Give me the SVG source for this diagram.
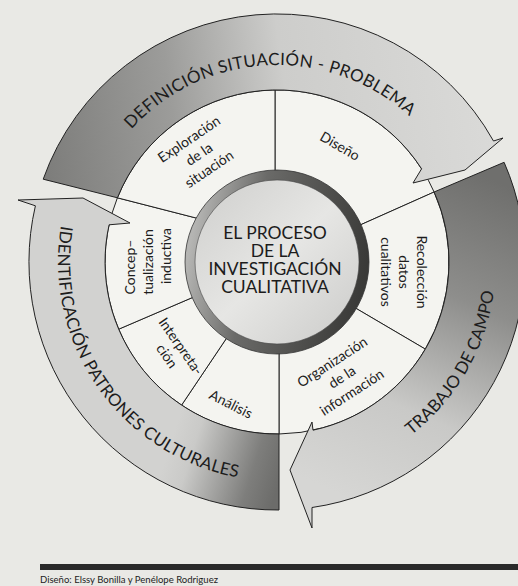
<svg xmlns="http://www.w3.org/2000/svg" width="518" height="586" viewBox="0 0 518 586">
<style>
.band{stroke:#222;stroke-width:1;stroke-linejoin:miter;}
.seg{fill:#f4f4f0;stroke:#222;stroke-width:1;}
.lbl{font-family:Lato,"Liberation Sans",sans-serif;font-size:14px;fill:#1c1c1c;text-anchor:middle;}
.blbl{font-family:Lato,"Liberation Sans",sans-serif;font-size:17px;fill:#1c1c1c;text-anchor:middle;}
.ctr{font-family:Lato,"Liberation Sans",sans-serif;font-size:17.5px;fill:#1c1c1c;text-anchor:middle;}
.cap{font-family:Lato,"Liberation Sans",sans-serif;font-size:9.5px;fill:#1c1c1c;}
</style>
<defs>
<linearGradient id="g1" gradientUnits="userSpaceOnUse" x1="45" y1="200" x2="500" y2="140">
<stop offset="0" stop-color="#7c7c7a"/><stop offset="0.3" stop-color="#9c9c9a"/><stop offset="0.55" stop-color="#cdcdcb"/><stop offset="1" stop-color="#dadad8"/>
</linearGradient>
<linearGradient id="g2" gradientUnits="userSpaceOnUse" x1="470" y1="170" x2="330" y2="490">
<stop offset="0" stop-color="#6f6f6d"/><stop offset="0.35" stop-color="#8e8e8c"/><stop offset="0.7" stop-color="#c9c9c7"/><stop offset="1" stop-color="#d6d6d4"/>
</linearGradient>
<linearGradient id="g3" gradientUnits="userSpaceOnUse" x1="280" y1="480" x2="170" y2="445">
<stop offset="0" stop-color="#6c6c6a"/><stop offset="0.25" stop-color="#7e7e7c"/><stop offset="0.8" stop-color="#cacac8"/><stop offset="1" stop-color="#d2d2d0"/>
</linearGradient>
<linearGradient id="gring" x1="0" y1="0.4" x2="1" y2="0.6">
<stop offset="0" stop-color="#b5b5b3"/><stop offset="0.35" stop-color="#6a6a68"/><stop offset="1" stop-color="#3a3a38"/>
</linearGradient>
<linearGradient id="gdisc" x1="0" y1="0" x2="1" y2="1">
<stop offset="0" stop-color="#cdcdcb"/><stop offset="0.5" stop-color="#e6e6e4"/><stop offset="1" stop-color="#c9c9c7"/>
</linearGradient>
<path id="tp1" d="M88.9,203.4 A197,197 0 0 1 458.7,186"/>
<path id="tp2" d="M277,481 A219,219 0 0 0 466.7,152.5"/>
<path id="tp3" d="M97.6,136.4 A219,219 0 0 0 333.7,473.5"/>
</defs>
<rect width="518" height="586" fill="#e9e9e5"/>

<g id="seg-diseno">
<path class="seg" d="M275,90 A172,172 0 0 1 434.1,192 L357,226.4 L275,175 Z"/>
<text class="lbl" transform="translate(340,146) rotate(30)" y="5">Diseño</text>
</g>
<g id="seg-recoleccion">
<path class="seg" d="M434.1,192 A172,172 0 0 1 425.3,349.1 L352,306 L357,226.4 Z"/>
<text class="lbl" transform="translate(404,272) rotate(90)"><tspan x="0" y="-13">Recolección</tspan><tspan x="0" y="5">datos</tspan><tspan x="0" y="23">cualitativos</tspan></text>
</g>
<g id="seg-organizacion">
<path class="seg" d="M425.3,349.1 A172,172 0 0 1 279,434 L279,350 L352,306 Z"/>
<text class="lbl" transform="translate(342,377) rotate(-33)"><tspan x="0" y="-13">Organización</tspan><tspan x="0" y="5">de la</tspan><tspan x="0" y="23">información</tspan></text>
</g>
<g id="seg-analisis">
<path class="seg" d="M279,434 A172,172 0 0 1 181.6,405.1 L228,336 L279,350 Z"/>
<text class="lbl" transform="translate(231,404) rotate(27)" y="5">Análisis</text>
</g>
<g id="seg-interpretacion">
<path class="seg" d="M181.6,405.1 A172,172 0 0 1 118.7,329.2 L196,296 L228,336 Z"/>
<text class="lbl" transform="translate(174,351) rotate(55)"><tspan x="0" y="-3.5">Interpreta-</tspan><tspan x="0" y="13.5">ción</tspan></text>
</g>
<g id="seg-conceptualizacion">
<path class="seg" d="M118.7,329.2 A172,172 0 0 1 117.4,197.8 L200,219 L196,296 Z"/>
<text class="lbl" transform="translate(148,262) rotate(-90)"><tspan x="-5" y="-13">Concep–</tspan><tspan x="0" y="5">tualización</tspan><tspan x="6" y="23">inductiva</tspan></text>
</g>
<g id="seg-exploracion">
<path class="seg" d="M117.4,197.8 A172,172 0 0 1 275,90 L275,175 L200,219 Z"/>
<text class="lbl" transform="translate(199,154) rotate(-34)"><tspan x="0" y="-13">Exploración</tspan><tspan x="0" y="5">de la</tspan><tspan x="0" y="23">situación</tspan></text>
</g>

<g id="connectors">
<g id="arrow-definicion">
<path class="band" fill="url(#g1)" d="M43.2,179.2 A248,248 0 0 1 493.5,141 L503,138 L465,170 L413,183 L421.6,168.8 A172,172 0 0 0 117.4,197.8 Z"/>
<text class="blbl"><textPath href="#tp1" startOffset="50%" textLength="309" lengthAdjust="spacing">DEFINICIÓN SITUACIÓN - PROBLEMA</textPath></text>
</g>
<g id="arrow-trabajo">
<path class="band" fill="url(#g2)" d="M504.1,162.3 A248,248 0 0 1 312,507.5 L312,528 L290,470 L312,422 L313,430.2 A172,172 0 0 0 434.1,192 Z"/>
<text class="blbl"><textPath href="#tp2" startOffset="50%" textLength="170" lengthAdjust="spacing">TRABAJO DE CAMPO</textPath></text>
</g>
<g id="arrow-identificacion">
<path class="band" fill="url(#g3)" d="M279,510 A248,248 0 0 1 35.4,205.8 L18,200 L83,198 L130,223 L109.1,224.8 A172,172 0 0 0 279,434 Z"/>
<text class="blbl"><textPath href="#tp3" startOffset="50%" textLength="341" lengthAdjust="spacing">IDENTIFICACIÓN PATRONES CULTURALES</textPath></text>
</g>
</g>

<g id="center">
<circle cx="277" cy="262" r="87" fill="url(#gdisc)" stroke="url(#gring)" stroke-width="10"/>
<circle cx="277" cy="262" r="92" fill="none" stroke="#333" stroke-width="0.8"/>
<circle cx="277" cy="262" r="82" fill="none" stroke="#444" stroke-width="0.6"/>
<text class="ctr"><tspan x="275" y="238.5">EL PROCESO</tspan><tspan x="275" y="256.5">DE LA</tspan><tspan x="275" y="275">INVESTIGACIÓN</tspan><tspan x="275" y="293">CUALITATIVA</tspan></text>
</g>

<g id="footer">
<rect x="40" y="564" width="478" height="6" fill="#2a2a2a"/>
<text class="cap" x="40" y="582.5" textLength="178" lengthAdjust="spacingAndGlyphs">Diseño: Elssy Bonilla y Penélope Rodriguez</text>
</g>
</svg>
